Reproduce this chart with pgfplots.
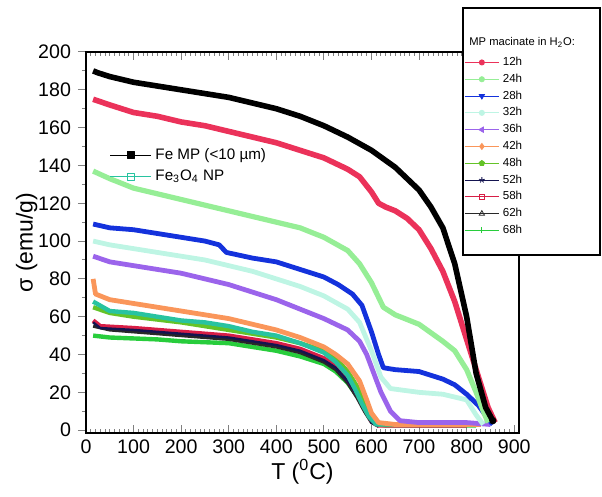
\documentclass[border=0pt]{standalone}
\usepackage{fontspec}
\setmainfont{Liberation Sans}
\usepackage{pgfplots}
\pgfplotsset{compat=1.18}

\definecolor{c12}{RGB}{235,50,90}
\definecolor{c24}{RGB}{150,238,150}
\definecolor{c28}{RGB}{20,50,220}
\definecolor{c32}{RGB}{190,245,228}
\definecolor{c36}{RGB}{155,100,235}
\definecolor{c42}{RGB}{250,150,90}
\definecolor{c48}{RGB}{100,195,40}
\definecolor{c52}{RGB}{20,20,80}
\definecolor{c58}{RGB}{215,30,70}
\definecolor{c62}{RGB}{40,40,40}
\definecolor{c68}{RGB}{40,205,60}
\definecolor{cnp}{RGB}{40,195,160}

\begin{document}
\begin{tikzpicture}
\useasboundingbox (-43pt,-32pt) rectangle (258pt,216.5pt);
\pgfplotsset{base/.style={width=216.5pt,height=190.5pt,scale only axis,
  xmin=0,xmax=910,ymin=-1.5,ymax=200}}
\begin{axis}[base,
  xtick={0,100,...,900}, ytick={0,20,...,200},
  minor x tick num=9, minor y tick num=1,
  xtick pos=both, ytick pos=left,
  xtick align=inside, ytick align=outside,
  major tick length=4pt, minor tick length=2pt,
  axis line style={line width=0.6pt},
  tick style={line width=0.5pt},
  tick label style={font=\fontsize{9.8}{11}\selectfont},
  /pgf/number format/assume math mode=true,
  xlabel={T (\textsuperscript{0}C)}, ylabel={σ (emu/g)},
  label style={font=\fontsize{11.5}{13}\selectfont},
  xlabel shift=-4pt, ylabel shift=-6.5pt,
  legend cell align=left,
  legend style={at={(0.040,0.770)},anchor=north west,draw=none,fill=none,
    font=\fontsize{7.6}{8.6}\selectfont},
  legend image code/.code={\draw[mark repeat=2,mark phase=2,#1] plot coordinates {(0cm,0cm) (0.36cm,0cm) (0.72cm,0cm)};},
  every axis plot/.append style={line join=round},
]
% 68h
\addplot[c68, line width=2.2pt, forget plot] coordinates {(15,50)(50,49)(100,48.5)(150,48)(200,47)(250,46.5)(300,46)(350,44)(400,42)(450,39)(500,35)(525,31)(550,25)(570,18)(585,12)(600,6)(615,3)(630,2.5)(700,2.5)(800,2.5)(820,2.5)};
% 62h
\addplot[c62, line width=1.6pt, forget plot] coordinates {(15,55)(50,53)(100,52)(200,50)(300,48)(350,46)(400,44)(450,41)(500,36)(525,32)(550,25)(570,17)(585,10)(600,4)(615,2)};
% 58h
\addplot[c58, line width=2.2pt, forget plot] coordinates {(15,58)(30,55)(100,54)(200,52)(300,50)(350,48)(400,46)(450,43)(500,38)(525,34)(550,27)(570,19)(585,12)(600,5)(615,2.5)(650,2.5)(800,2.5)};
% 52h
\addplot[c52, line width=1.2pt, forget plot] coordinates {(15,57)(30,54)(100,53)(200,51)(300,49)(400,45)(450,42)(500,37)(525,33)(550,26)(570,18)(585,11)(600,4)(615,2)};
% 48h
\addplot[c48, line width=2.2pt, forget plot] coordinates {(15,65)(50,62)(100,60)(200,57)(300,53)(350,51)(400,49)(450,46)(500,42)(525,38)(550,31)(570,23)(585,15)(600,7)(615,3)(650,3)(800,3)};
% Fe3O4 NP
\addplot[cnp, line width=2.2pt, forget plot] coordinates {(15,68)(50,63)(100,62)(150,60)(200,58)(250,57)(300,55)(350,52)(400,50)(450,46)(500,41)(525,36)(550,29)(565,22)(580,14)(595,7)(610,3)(650,3)(700,3)(750,3)(800,3)(820,3)};
% 42h
\addplot[c42, line width=2.4pt, forget plot] coordinates {(15,80)(20,72)(50,69)(100,67)(150,65)(200,63)(250,61)(300,59)(350,56)(400,53)(450,49)(500,44)(525,40)(550,35)(575,26)(590,16)(600,9)(615,4)(650,3)(700,3)(750,3)(800,3)(830,3)};
% 36h
\addplot[c36, line width=2.4pt, forget plot] coordinates {(15,92)(50,89)(100,87)(150,85)(200,83)(250,80)(300,77)(350,73)(400,69)(450,64)(500,59)(550,53)(575,47)(590,40)(605,30)(620,20)(640,10)(660,5)(700,4)(750,4)(800,4)(850,3)};
% 32h
\addplot[c32, line width=2.4pt, forget plot] coordinates {(15,100)(50,98)(100,96)(150,94)(200,92)(250,90)(300,87)(350,84)(400,80)(450,76)(500,71)(550,64)(575,57)(600,42)(620,28)(640,22)(700,20)(750,19)(800,16)(820,8)(835,3)};
% 28h
\addplot[c28, line width=2.4pt, forget plot] coordinates {(15,109)(50,107)(100,106)(150,104)(200,102)(250,100)(280,98)(295,94)(350,91)(400,89)(450,85)(500,81)(530,77)(560,72)(580,66)(600,52)(615,40)(625,33)(650,32)(700,31)(750,27)(775,24)(800,19)(825,13)(845,6)(855,3)};
% 24h
\addplot[c24, line width=2.6pt, forget plot] coordinates {(15,137)(50,133)(100,128)(150,125)(200,122)(250,119)(300,116)(350,113)(400,110)(450,107)(500,102)(550,95)(575,88)(600,78)(625,65)(650,61)(700,56)(750,47)(775,42)(800,32)(820,20)(835,10)(845,4)};
% 12h
\addplot[c12, line width=2.8pt, forget plot] coordinates {(15,175)(50,172)(100,168)(150,166)(200,163)(250,161)(300,158)(350,155)(400,152)(450,148)(500,144)(550,138)(575,134)(600,126)(615,120)(630,118)(650,116)(675,112)(700,106)(725,96)(750,84)(775,68)(800,48)(825,28)(845,12)(860,4)};
% Fe MP
\addplot[black, line width=2.8pt, forget plot] coordinates {(15,190)(25,189)(50,187)(100,184)(150,182)(200,180)(250,178)(300,176)(350,173)(400,170)(450,166)(500,161)(550,155)(600,148)(650,139)(700,127)(725,118)(750,107)(775,88)(800,60)(820,30)(840,12)(855,5)};
\addplot[black, mark=*, mark size=1.6pt, forget plot] coordinates {(855,5)};
\addlegendimage{black, mark=square*, mark size=1.7pt}
\addlegendentry{Fe MP (<10 µm)}
\addlegendimage{cnp, mark=square, mark size=1.7pt, mark options={fill=white}}
\addlegendentry{Fe\textsubscript{3}O\textsubscript{4} NP}
\end{axis}
\draw[line width=0.8pt, fill=white] (188.5pt,212.5pt) rectangle (257pt,89pt);
\node[anchor=west, font=\fontsize{5.6}{6.5}\selectfont, inner sep=0pt] at (191.5pt,195.5pt) {MP macinate in H\textsubscript{2}O:};
\begin{axis}[base, hide axis,
  legend cell align=left,
  legend style={at={(0.873,0.988)},anchor=north west,draw=none,fill=none,
    inner sep=0pt, row sep=2.9pt, font=\fontsize{5.8}{6.5}\selectfont,
    nodes={inner xsep=1.75pt, inner ysep=0pt, text height=4.3pt, text depth=1.2pt}},
]
\addplot[draw=none, forget plot] coordinates {(0,0)};
\addlegendimage{c12, mark=*, mark size=1.3pt}\addlegendentry{12h}
\addlegendimage{c24, mark=*, mark size=1.3pt}\addlegendentry{24h}
\addlegendimage{c28, mark=triangle*, mark size=1.5pt, mark options={rotate=180}}\addlegendentry{28h}
\addlegendimage{c32, mark=*, mark size=1.3pt}\addlegendentry{32h}
\addlegendimage{c36, mark=triangle*, mark size=1.5pt, mark options={rotate=90}}\addlegendentry{36h}
\addlegendimage{c42, mark=diamond*, mark size=1.5pt}\addlegendentry{42h}
\addlegendimage{c48, mark=pentagon*, mark size=1.4pt}\addlegendentry{48h}
\addlegendimage{c52, mark=star, mark size=1.5pt}\addlegendentry{52h}
\addlegendimage{c58, mark=square, mark size=1.3pt, mark options={fill=white}}\addlegendentry{58h}
\addlegendimage{c62, mark=triangle, mark size=1.5pt, mark options={fill=white}}\addlegendentry{62h}
\addlegendimage{c68, mark=+, mark size=1.5pt}\addlegendentry{68h}
\end{axis}
\end{tikzpicture}
\end{document}
